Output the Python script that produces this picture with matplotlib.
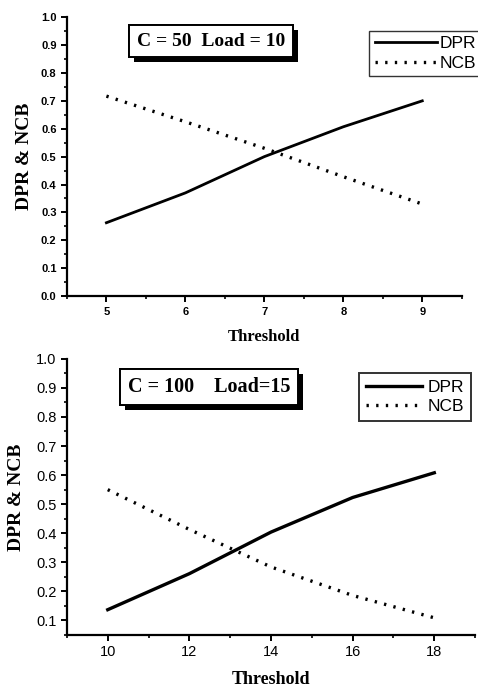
import matplotlib
matplotlib.use('Agg')
import matplotlib.pyplot as plt
import matplotlib.patheffects as pe
from matplotlib.ticker import MultipleLocator

# top panel: C = 50, Load = 10
thr_top = [5, 6, 7, 8, 9]
dpr_top = [0.263, 0.37, 0.50, 0.607, 0.70]
ncb_top = [0.717, 0.625, 0.53, 0.428, 0.33]

# bottom panel: C = 100, Load = 15
thr_bot = [10, 12, 14, 16, 18]
dpr_bot = [0.137, 0.261, 0.404, 0.523, 0.608]
ncb_bot = [0.55, 0.413, 0.284, 0.186, 0.109]

serif = 'Liberation Serif'
sans = 'Liberation Sans'

fig = plt.figure(figsize=(4.78, 6.87), dpi=100)
ax1 = fig.add_axes([0.140, 0.569, 0.826, 0.406])
ax2 = fig.add_axes([0.140, 0.0757, 0.854, 0.402])

dotted = (0, (0.7, 2.2))


def style_axes(ax, tick_size, bold_ticks):
    for s in ['top', 'right']:
        ax.spines[s].set_visible(False)
    for s in ['left', 'bottom']:
        ax.spines[s].set_linewidth(1.6)
    ax.tick_params(which='major', direction='out', length=4, width=1.4,
                   labelsize=tick_size)
    ax.tick_params(which='minor', direction='out', length=2.5, width=1.2)
    for lab in ax.get_xticklabels() + ax.get_yticklabels():
        lab.set_fontfamily(sans)
        if bold_ticks:
            lab.set_fontweight('bold')


def info_box(ax, x, y, txt, size):
    t = ax.text(x, y, txt, transform=ax.transAxes, ha='center', va='center',
                fontsize=size, fontweight='bold', family=serif,
                bbox=dict(boxstyle='square,pad=0.4', facecolor='white',
                          edgecolor='black', linewidth=1.4))
    t.get_bbox_patch().set_path_effects(
        [pe.withSimplePatchShadow(offset=(3.5, -3.5), shadow_rgbFace='black', alpha=1.0),
         pe.Normal()])


# top
ax1.plot(thr_top, dpr_top, color='black', lw=2.0, label='DPR')
ax1.plot(thr_top, ncb_top, color='black', lw=2.4, ls=dotted, label='NCB')
ax1.set_xlim(4.5, 9.5)
ax1.set_ylim(0, 1.0)
ax1.xaxis.set_major_locator(MultipleLocator(1))
ax1.xaxis.set_minor_locator(MultipleLocator(0.5))
ax1.set_yticks([i / 10 for i in range(11)])
ax1.set_yticklabels(['%.1f' % (i / 10) for i in range(11)])
ax1.yaxis.set_minor_locator(MultipleLocator(0.05))
style_axes(ax1, 8, True)
ax1.set_xlabel('Threshold', fontsize=12, fontweight='bold', family=serif, labelpad=9)
ax1.set_ylabel('DPR & NCB', fontsize=14, fontweight='bold', family=serif, labelpad=6)
info_box(ax1, 0.365, 0.914, 'C = 50  Load = 10', 14)
leg1 = ax1.legend(loc='upper right', bbox_to_anchor=(1.05, 0.95), frameon=True,
                  fancybox=False, edgecolor='black', handlelength=3.6,
                  prop={'family': sans, 'size': 12.5}, borderpad=0.3,
                  handletextpad=0.15, labelspacing=0.25, borderaxespad=0)
leg1.get_frame().set_linewidth(1.0)

# bottom
ax2.plot(thr_bot, dpr_bot, color='black', lw=2.4, label='DPR')
ax2.plot(thr_bot, ncb_bot, color='black', lw=2.4, ls=dotted, label='NCB')
ax2.set_xlim(9, 19)
ax2.set_ylim(0.05, 1.0)
ax2.xaxis.set_major_locator(MultipleLocator(2))
ax2.xaxis.set_minor_locator(MultipleLocator(1))
ax2.set_yticks([i / 10 for i in range(1, 11)])
ax2.set_yticklabels(['%.1f' % (i / 10) for i in range(1, 11)])
ax2.yaxis.set_minor_locator(MultipleLocator(0.05))
style_axes(ax2, 10.5, False)
ax2.set_xlabel('Threshold', fontsize=13, fontweight='bold', family=serif, labelpad=8)
ax2.set_ylabel('DPR & NCB', fontsize=14, fontweight='bold', family=serif, labelpad=8)
info_box(ax2, 0.348, 0.899, 'C = 100    Load=15', 14.5)
leg2 = ax2.legend(loc='upper right', bbox_to_anchor=(0.99, 0.95), frameon=True,
                  fancybox=False, edgecolor='black', handlelength=3.2,
                  prop={'family': sans, 'size': 12.5}, borderpad=0.4,
                  handletextpad=0.35, labelspacing=0.25, borderaxespad=0)
leg2.get_frame().set_linewidth(1.4)

fig.savefig('out.png', dpi=100)
